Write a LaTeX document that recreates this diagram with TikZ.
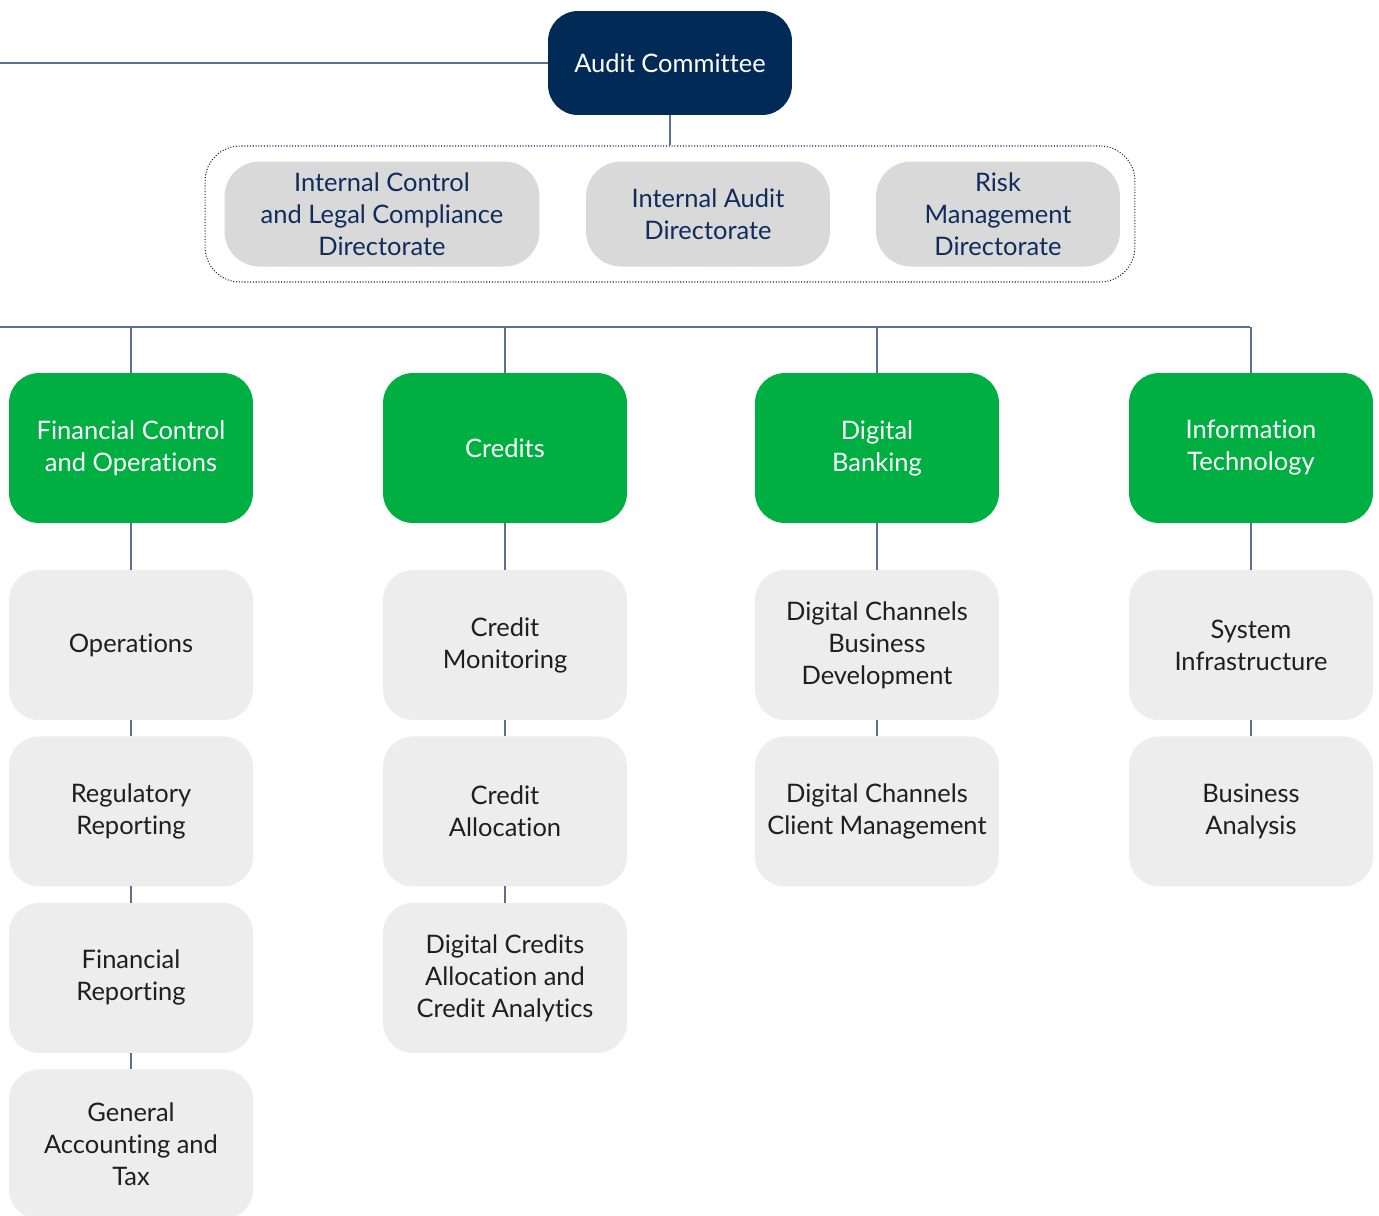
\documentclass[tikz,border=0pt]{standalone}
\usepackage{fontspec}
\setmainfont{Lato}[Ligatures=NoCommon]
\usetikzlibrary{positioning}

\definecolor{navy}{HTML}{022A57}
\definecolor{leafgreen}{HTML}{00AF42}
\definecolor{dirgrey}{HTML}{D9D9D9}
\definecolor{unitgrey}{HTML}{EDEDED}
\definecolor{wirecol}{HTML}{5B7090}
\definecolor{dirtext}{HTML}{0F2D5C}

\tikzset{
    box/.style={rounded corners=0.6cm, align=center, inner sep=0pt, outer sep=0pt,
        minimum width=4.88cm, minimum height=3cm,
        font=\fontsize{14.5}{18.2}\selectfont},
    topbox/.style={box, fill=navy, text=white, minimum height=2.08cm},
    dirbox/.style={box, fill=dirgrey, text=dirtext, minimum height=2.1cm, rounded corners=0.7cm},
    headbox/.style={box, fill=leafgreen, text=white},
    unitbox/.style={box, fill=unitgrey, text=black!88},
    groupframe/.style={draw=navy, densely dotted, line width=0.6pt, rounded corners=0.7cm,
        minimum width=18.6cm, minimum height=2.72cm},
    wire/.style={draw=wirecol, line width=0.8pt}
}

\begin{document}
\begin{tikzpicture}[x=0.02cm, y=-0.02cm]
    \useasboundingbox (0,0) rectangle (1379,1215);
    \clip (0,0) rectangle (1379,1215);
    % Committee
    \node[topbox] (audit) at (670,63) {Audit Committee};
    \coordinate (feed) at (0,63);
    \draw[wire] (feed) -- (audit);
    % Directorates
    \node[groupframe] (dirgroup) at (670,214) {};
    \node[dirbox, minimum width=6.3cm] (iclc) at (382,214) {Internal Control\\and Legal Compliance\\Directorate};
    \node[dirbox] (intaudit) at (708,214) {Internal Audit\\Directorate};
    \node[dirbox] (riskmgmt) at (998,214) {Risk\\Management\\Directorate};
    \draw[wire] (audit) -- (dirgroup);
    % Bus
    \coordinate (busleft) at (0,327);
    \coordinate (busright) at (1250,327);
    \draw[wire] (busleft) -- (busright);
    % Departments
    \node[headbox] (fco) at (131,448) {Financial Control\\and Operations};
    \node[headbox] (credits) at (505,448) {Credits};
    \node[headbox] (digital) at (877,448) {Digital\\Banking};
    \node[headbox] (infotech) at (1251,448) {Information\\Technology};
    \foreach \h in {fco, credits, digital, infotech} {
        \draw[wire] (\h.north) -- (\h.north |- busleft);
    }
    % Units
    \node[unitbox, below=0.94cm of fco] (ops) {Operations};
    \node[unitbox, below=0.33cm of ops] (regrep) {Regulatory\\Reporting};
    \node[unitbox, below=0.33cm of regrep] (finrep) {Financial\\Reporting};
    \node[unitbox, below=0.33cm of finrep] (genacc) {General\\Accounting and\\Tax};
    \node[unitbox, below=0.94cm of credits] (crmon) {Credit\\Monitoring};
    \node[unitbox, below=0.33cm of crmon] (cralloc) {Credit\\Allocation};
    \node[unitbox, below=0.33cm of cralloc] (digcr) {Digital Credits\\Allocation and\\Credit Analytics};
    \node[unitbox, below=0.94cm of digital] (dcbd) {Digital Channels\\Business\\Development};
    \node[unitbox, below=0.33cm of dcbd] (dccm) {Digital Channels\\Client Management};
    \node[unitbox, below=0.94cm of infotech] (sysinf) {System\\Infrastructure};
    \node[unitbox, below=0.33cm of sysinf] (busan) {Business\\Analysis};
    \foreach \a/\b in {fco/ops, ops/regrep, regrep/finrep, finrep/genacc,
        credits/crmon, crmon/cralloc, cralloc/digcr,
        digital/dcbd, dcbd/dccm, infotech/sysinf, sysinf/busan} {
        \draw[wire] (\a) -- (\b);
    }
\end{tikzpicture}
\end{document}
